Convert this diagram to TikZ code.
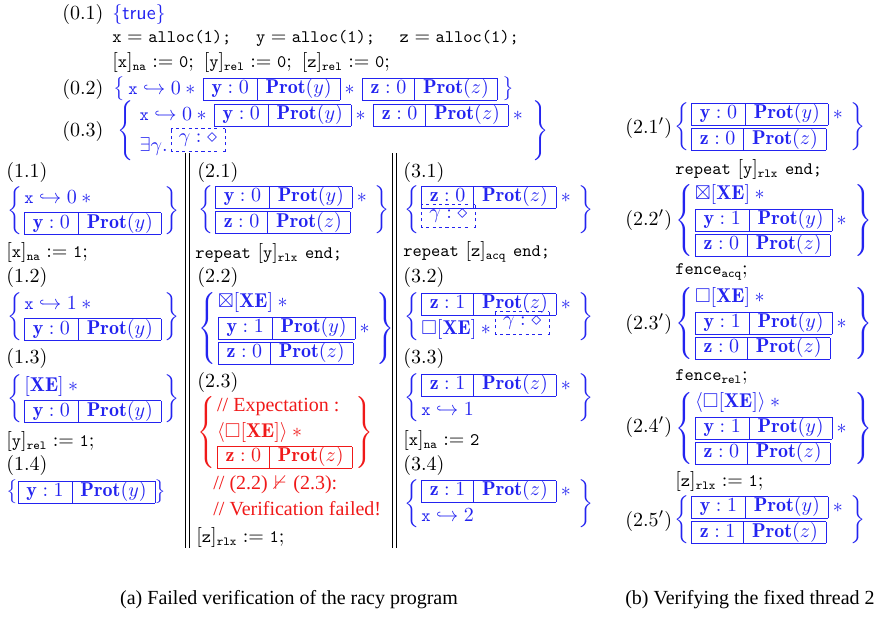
\documentclass[tikz,border=0pt]{standalone}
\usepackage{amsmath}
\usepackage{amssymb}
\usepackage{graphicx}
\usepackage{fontspec}
\newfontfamily\tnr{Liberation Serif}
\usetikzlibrary{positioning}
\definecolor{asnblue}{RGB}{35,35,240}
\definecolor{failred}{RGB}{240,25,25}
\setlength{\arraycolsep}{1.5pt}
\renewcommand{\arraystretch}{1.06}
% code font, a little smaller than the roman text
\newcommand{\tx}[1]{\text{\scalebox{0.88}{\ttfamily #1}}}
\newcommand{\rbox}[2]{{\setlength{\tabcolsep}{4.2pt}\renewcommand{\arraystretch}{0.88}%
  \begin{tabular}{|c|c|}\hline $\mathbf{#1}:#2$ & $\mathbf{Prot}(#1)$\\\hline\end{tabular}}}
\newcommand{\pto}[2]{\tx{#1}\hookrightarrow #2}
\newcommand{\loc}[2]{[\tx{#1}]_{\tx{#2}}}
\newcommand{\xe}{[\mathbf{XE}]}
\newcommand{\ghost}{\mbox{\setlength{\unitlength}{1pt}%
  \begin{picture}(27,8.5)(0,-3)\put(0,-3){\dashbox{1.6}(27,11.5){$\gamma:\diamond$}}\end{picture}}}
\newcommand{\stack}[1]{\left\{\begin{array}{@{\hspace{1pt}}l@{\hspace{1.5pt}}}#1\end{array}\right\}}

\begin{document}
\begin{tikzpicture}[x=0.5pt, y=-0.5pt,
  lbl/.style={anchor=west, inner sep=0pt},
  asn/.style={anchor=west, inner sep=0pt, text=asnblue},
  bad/.style={anchor=west, inner sep=0pt, text=failred},
  captext/.style={inner sep=0pt, font=\tnr},
  colrule/.style={line width=0.45pt}]
  \useasboundingbox (0,0) rectangle (876,617);

  % initialisation
  \node[lbl] (l01) at (62,14) {(0.1)};
  \node[asn] (a01) at (112,14) {$\{\mathsf{true}\}$};
  \node[lbl] (c01) at (112,38) {$\tx{x} = \tx{alloc(1);}\hspace{12.3pt} \tx{y} = \tx{alloc(1);}\hspace{12.3pt} \tx{z} = \tx{alloc(1);}$};
  \node[lbl] (c02) at (112,62) {$\loc{x}{na} := \tx{0};\ \loc{y}{rel} := \tx{0};\ \loc{z}{rel} := \tx{0};$};
  \node[lbl] (l02) at (62,89) {(0.2)};
  \node[asn] (a02) at (113,89) {$\left\{\,\pto{x}{0} *\,\rbox{y}{0} *\,\rbox{z}{0}\;\right\}$};
  \node[lbl] (l03) at (62,131) {(0.3)};
  \node[asn] (a03) at (117,131) {$\left\{\begin{array}{@{\hspace{3pt}}l@{\hspace{2.5pt}}} \pto{x}{0} *\,\rbox{y}{0} *\,\rbox{z}{0} *{} \\[3pt] \exists\gamma.\,\ghost \end{array}\right\}$};

  % thread 1
  \node[lbl] (l11) at (6,172) {(1.1)};
  \node[asn] (a11) at (7,211) {$\stack{\pto{x}{0} *{} \\ \rbox{y}{0}}$};
  \node[lbl] (c11) at (6,252) {$\loc{x}{na} := \tx{1};$};
  \node[lbl] (l12) at (6,277) {(1.2)};
  \node[asn] (a12) at (7,317) {$\stack{\pto{x}{1} *{} \\ \rbox{y}{0}}$};
  \node[lbl] (l13) at (6,358) {(1.3)};
  \node[asn] (a13) at (7,399) {$\stack{\xe *{} \\ \rbox{y}{0}}$};
  \node[lbl] (c12) at (6,441) {$\loc{y}{rel} := \tx{1};$};
  \node[lbl] (l14) at (6,465) {(1.4)};
  \node[asn] (a14) at (6,492) {$\left\{\rbox{y}{1}\right\}$};

  % thread 2
  \node[lbl] (l21) at (197,172) {(2.1)};
  \node[asn] (a21) at (198,210) {$\stack{\rbox{y}{0} *{} \\ \rbox{z}{0}}$};
  \node[lbl] (c21) at (195,253) {$\tx{repeat}\ \loc{y}{rlx}\ \tx{end;}$};
  \node[lbl] (l22) at (197,277) {(2.2)};
  \node[asn] (a22) at (198,328) {$\stack{\boxtimes\xe *{} \\ \rbox{y}{1} *{} \\ \rbox{z}{0}}$};
  \node[lbl] (l23) at (197,382) {(2.3)};
  \node[bad] (a23) at (197,432) {$\stack{\text{\tnr // Expectation :} \\ \langle\Box\xe\rangle *{} \\ \rbox{z}{0}}$};
  \node[bad] (f21) at (213,485) {{\tnr // (2.2)} $\nvdash$ {\tnr (2.3):}};
  \node[bad] (f22) at (213,509) {\tnr // Verification failed!};
  \node[lbl] (c22) at (196,537) {$\loc{z}{rlx} := \tx{1};$};

  % thread 3
  \node[lbl] (l31) at (403,172) {(3.1)};
  \node[asn] (a31) at (404,210) {$\stack{\rbox{z}{0} *{} \\ \ghost}$};
  \node[lbl] (c31) at (403,252) {$\tx{repeat}\ \loc{z}{acq}\ \tx{end;}$};
  \node[lbl] (l32) at (403,277) {(3.2)};
  \node[asn] (a32) at (404,317) {$\stack{\rbox{z}{1} *{} \\ \Box\xe * \ghost}$};
  \node[lbl] (l33) at (403,358) {(3.3)};
  \node[asn] (a33) at (404,398) {$\stack{\rbox{z}{1} *{} \\ \pto{x}{1}}$};
  \node[lbl] (c32) at (403,440) {$\loc{x}{na} := \tx{2}$};
  \node[lbl] (l34) at (403,465) {(3.4)};
  \node[asn] (a34) at (404,504) {$\stack{\rbox{z}{1} *{} \\ \pto{x}{2}}$};

  % column rules
  \draw[colrule] (185,153) -- (185,548);
  \draw[colrule] (189,153) -- (189,548);
  \draw[colrule] (392,153) -- (392,548);
  \draw[colrule] (396,153) -- (396,548);

  % fixed thread 2
  \node[lbl] (m21) at (625,128) {$(2.1')$};
  \node[asn] (b21) at (674,127) {$\stack{\rbox{y}{0} *{} \\ \rbox{z}{0}}$};
  \node[lbl] (d21) at (675,169) {$\tx{repeat}\ \loc{y}{rlx}\ \tx{end;}$};
  \node[lbl] (m22) at (625,220) {$(2.2')$};
  \node[asn] (b22) at (675,220) {$\stack{\boxtimes\xe *{} \\ \rbox{y}{1} *{} \\ \rbox{z}{0}}$};
  \node[lbl] (d22) at (675,272) {$\tx{fence}_{\tx{acq}};$};
  \node[lbl] (m23) at (625,324) {$(2.3')$};
  \node[asn] (b23) at (675,323) {$\stack{\Box\xe *{} \\ \rbox{y}{1} *{} \\ \rbox{z}{0}}$};
  \node[lbl] (d23) at (675,377) {$\tx{fence}_{\tx{rel}};$};
  \node[lbl] (m24) at (625,427) {$(2.4')$};
  \node[asn] (b24) at (675,428) {$\stack{\langle\Box\xe\rangle *{} \\ \rbox{y}{1} *{} \\ \rbox{z}{0}}$};
  \node[lbl] (d24) at (675,481) {$\loc{z}{rlx} := \tx{1};$};
  \node[lbl] (m25) at (625,521) {$(2.5')$};
  \node[asn] (b25) at (674,520) {$\stack{\rbox{y}{1} *{} \\ \rbox{z}{1}}$};

  % captions
  \node[captext] (capa) at (289,600) {(a) Failed verification of the racy program};
  \node[captext, anchor=east] (capb) at (875,600) {(b) Verifying the fixed thread 2};
\end{tikzpicture}
\end{document}
